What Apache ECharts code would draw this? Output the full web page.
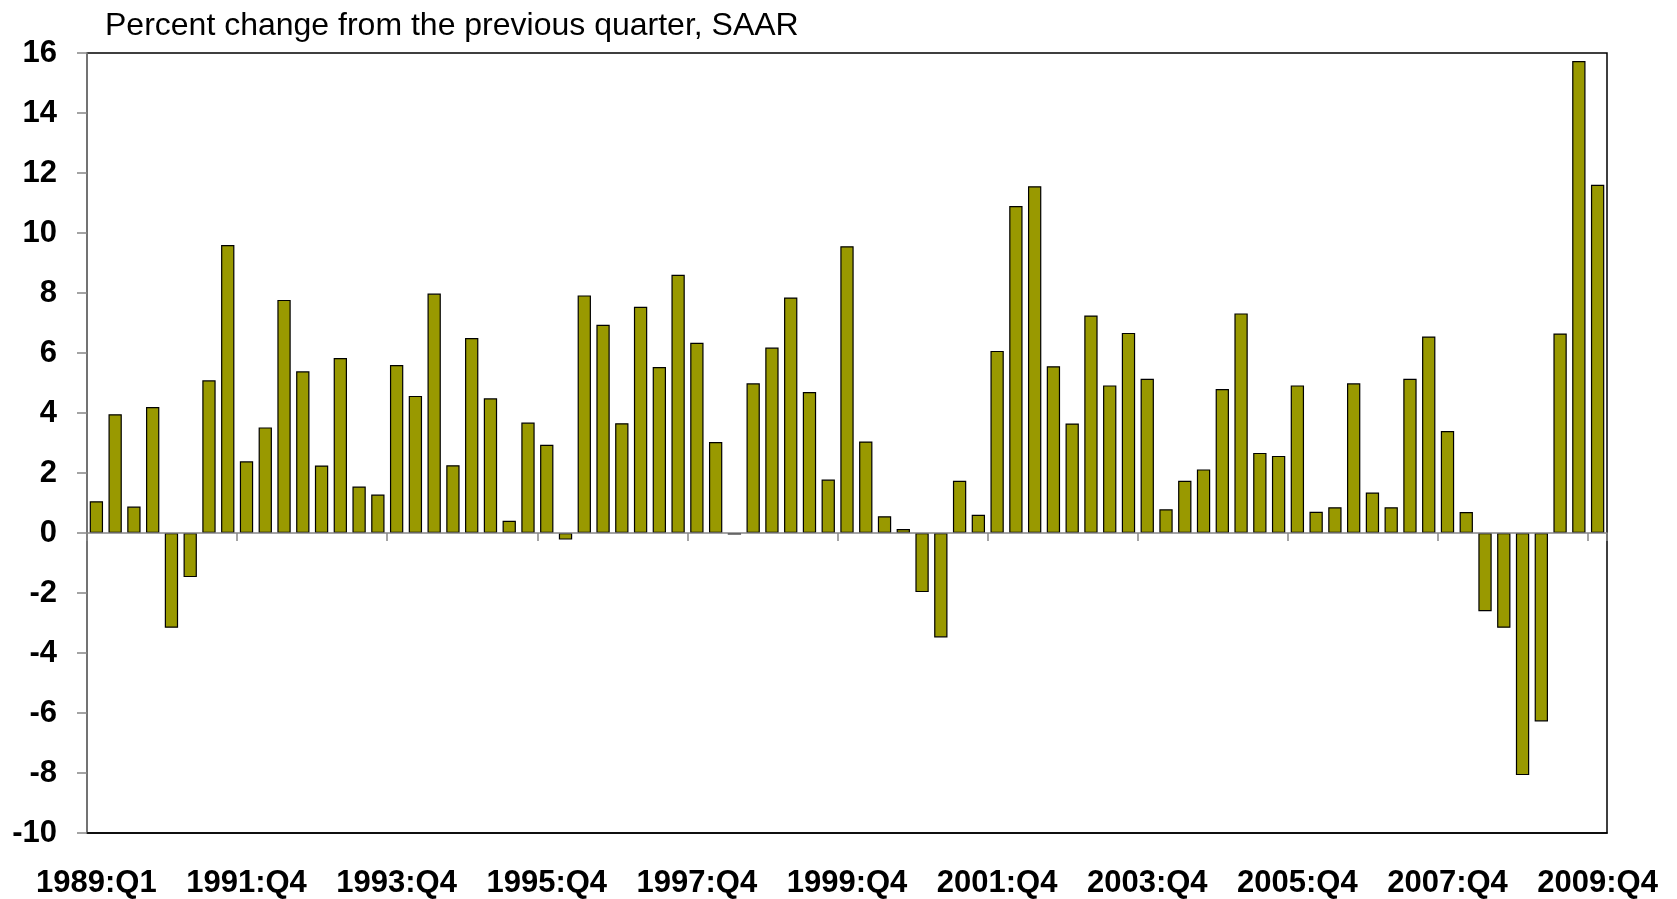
<!DOCTYPE html>
<html>
<head>
<meta charset="utf-8">
<script src="https://cdn.jsdelivr.net/npm/echarts@6/dist/echarts.min.js"></script>
<style>
html,body{margin:0;padding:0;background:#fff;}
#chart{width:1677px;height:899px;}
</style>
</head>
<body>
<div id="chart"></div>
<script>
// Quarterly categories (81 quarters)
const categories = [];
for (let y = 1989; y <= 2009; y++) {
  for (let q = 1; q <= 4; q++) {
    if (y === 1989 && q < 4) continue;
    categories.push(y + ':Q' + q);
  }
}
// Tick labels as printed on the chart (one every 8 quarters)
const tickLabels = ['1989:Q1','1991:Q4','1993:Q4','1995:Q4','1997:Q4','1999:Q4','2001:Q4','2003:Q4','2005:Q4','2007:Q4','2009:Q4'];

// Percent change from the previous quarter, SAAR
const values = [
  1.06, 3.96, 0.88, 4.20, -3.16, -1.47, 5.09, 9.60, 2.39, 3.52,
  7.77, 5.39, 2.25, 5.83, 1.55, 1.28, 5.60, 4.57, 7.98, 2.26,
  6.50, 4.49, 0.41, 3.68, 2.94, -0.22, 7.92, 6.94, 3.66, 7.54,
  5.53, 8.61, 6.34, 3.03, -0.05, 4.99, 6.18, 7.85, 4.70, 1.78,
  9.56, 3.05, 0.56, 0.13, -1.97, -3.48, 1.74, 0.61, 6.07, 10.90,
  11.56, 5.56, 3.65, 7.25, 4.92, 6.67, 5.14, 0.79, 1.74, 2.12,
  4.80, 7.32, 2.67, 2.57, 4.92, 0.71, 0.86, 4.99, 1.35, 0.86,
  5.14, 6.55, 3.40, 0.70, -2.61, -3.16, -8.07, -6.28, 6.65, 15.73,
  11.61
];

const yMin = -10, yMax = 16, yStep = 2;
const titleText = 'Percent change from the previous quarter, SAAR';

const FONT = "'Liberation Sans', Arial, sans-serif";
const GRAY = '#868686';

const chart = echarts.init(document.getElementById('chart'));
chart.setOption({
  animation: false,
  backgroundColor: '#fff',
  title: {
    text: titleText,
    left: 105,
    top: 10,
    padding: 0,
    textStyle: { fontFamily: FONT, fontSize: 32, fontWeight: 'normal', color: '#000' }
  },
  grid: {
    left: 87, right: 70, top: 53, bottom: 61,
    show: true, borderColor: '#000', borderWidth: 1.5, backgroundColor: 'transparent'
  },
  xAxis: [
    {
      type: 'category',
      data: categories,
      position: 'bottom',
      boundaryGap: true,
      axisLine: { onZero: false, lineStyle: { color: '#000', width: 1.5 } },
      axisTick: { show: false },
      axisLabel: {
        interval: 7,
        formatter: function (v, i) { return tickLabels[i / 8]; },
        fontFamily: FONT, fontSize: 31, fontWeight: 'bold', color: '#000', margin: 35
      },
      splitLine: { show: false },
      z: 3
    },
    {
      type: 'category',
      data: categories,
      position: 'bottom',
      boundaryGap: true,
      axisLine: { onZero: true, lineStyle: { color: GRAY, width: 1.5 } },
      axisTick: { show: true, interval: 7, length: 8, lineStyle: { color: GRAY, width: 1.5 } },
      axisLabel: { show: false },
      splitLine: { show: false },
      z: 4
    }
  ],
  yAxis: {
    type: 'value',
    min: yMin, max: yMax, interval: yStep,
    position: 'left',
    axisLine: { show: true, onZero: false, lineStyle: { color: GRAY, width: 1.5 } },
    axisTick: { show: true, length: 10, lineStyle: { color: GRAY, width: 1.5 } },
    axisLabel: { fontFamily: FONT, fontSize: 31, fontWeight: 'bold', color: '#000', margin: 30 },
    splitLine: { show: false },
    z: 3
  },
  series: [{
    type: 'bar',
    xAxisIndex: 0,
    data: values,
    barWidth: '71%',
    itemStyle: { color: '#999900', borderColor: '#000', borderWidth: 1.2 }
  }]
});
</script>
</body>
</html>
